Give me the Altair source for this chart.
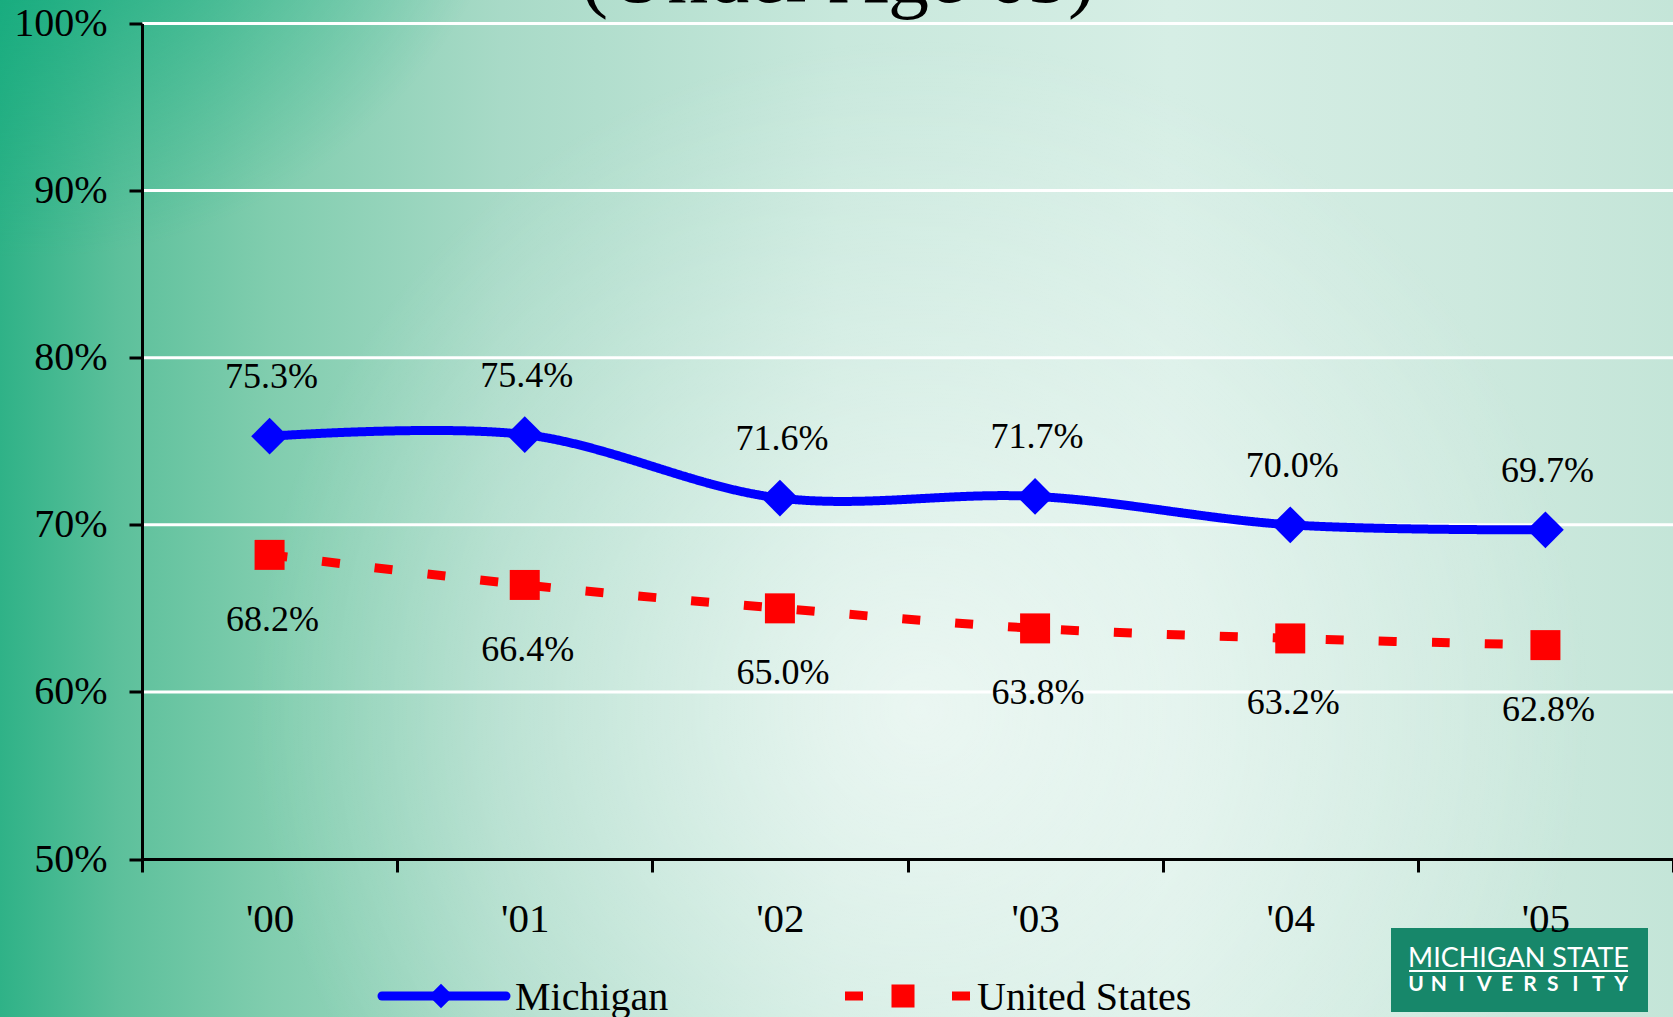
import altair as alt
import pandas as pd

# ---------------- data ----------------
years = ["'00", "'01", "'02", "'03", "'04", "'05"]
michigan = [75.3, 75.4, 71.6, 71.7, 70.0, 69.7]
united_states = [68.2, 66.4, 65.0, 63.8, 63.2, 62.8]
series_names = ["Michigan", "United States"]
series_colors = ["#0000ff", "#ff0000"]
y_ticks = [50, 60, 70, 80, 90, 100]
grid_values = [60, 70, 80, 90, 100]
title_text = "(Under Age 65)"
logo_line1 = "MICHIGAN STATE"
logo_line2 = list("UNIVERSITY")

# ---------------- layout ----------------
PAD_L, PAD_T = 142, 23.5
W = 1673 - PAD_L
H = 835.5
PAD_B = 1017 - PAD_T - H
SERIF = "Liberation Serif"

df = pd.DataFrame({
    "year": years * 2,
    "series": [series_names[0]] * len(years) + [series_names[1]] * len(years),
    "value": michigan + united_states,
})
df["label"] = df["value"].map(lambda v: f"{v:.1f}%")
one = pd.DataFrame({"k": [0]})

X = alt.X(
    "year:N", sort=years, bandPosition=0.5,
    scale=alt.Scale(type="band", domain=years, paddingInner=0, paddingOuter=0),
    axis=alt.Axis(title=None, labelAngle=0, tickBand="extent", grid=False,
                  domainColor="black", domainWidth=3, tickColor="black",
                  tickWidth=3, tickSize=13, labelFont=SERIF, labelFontSize=41,
                  labelColor="black", labelPadding=27, zindex=1),
)
YSCALE = alt.Scale(domain=[50, 100], nice=False, zero=False)
YAXIS = alt.Axis(title=None, values=y_ticks, labelExpr="datum.value + '%'",
                 grid=False, domainColor="black", domainWidth=3,
                 tickColor="black", tickWidth=3, tickSize=13, labelFont=SERIF,
                 labelFontSize=40, labelColor="black", labelPadding=22, zindex=1)
Y = alt.Y("value:Q", scale=YSCALE, axis=YAXIS)


def bg_rect(fill):
    return alt.Chart(one).mark_rect(fill=fill, strokeWidth=0).encode(
        x=alt.value(-PAD_L), x2=alt.value(W),
        y=alt.value(-PAD_T), y2=alt.value(H + PAD_B))


bg_base = bg_rect({
    "gradient": "linear", "x1": 0, "y1": 0, "x2": 1, "y2": 0,
    "stops": [
        {"offset": 0.0, "color": "#2fb287"},
        {"offset": 0.07, "color": "#5cc09b"},
        {"offset": 0.16, "color": "#80cdae"},
        {"offset": 0.3, "color": "#a8dac7"},
        {"offset": 0.5, "color": "#c8e8dc"},
        {"offset": 0.7, "color": "#d6eee5"},
        {"offset": 0.88, "color": "#cde9de"},
        {"offset": 1.0, "color": "#c4e5d8"},
    ]})
bg_glow = bg_rect({
    "gradient": "radial", "x1": 0.55, "y1": 0.62, "r1": 0,
    "x2": 0.55, "y2": 0.62, "r2": 0.4,
    "stops": [
        {"offset": 0.0, "color": "rgba(255,255,255,0.6)"},
        {"offset": 1.0, "color": "rgba(255,255,255,0)"},
    ]})
bg_corner = bg_rect({
    "gradient": "radial", "x1": 0.02, "y1": 0.05, "r1": 0,
    "x2": 0.02, "y2": 0.05, "r2": 0.3,
    "stops": [
        {"offset": 0.0, "color": "rgba(0,166,118,0.95)"},
        {"offset": 1.0, "color": "rgba(0,166,118,0)"},
    ]})

grid = alt.Chart(pd.DataFrame({"value": grid_values})).mark_rule(
    color="white", strokeWidth=3).encode(y=Y)

lines = alt.Chart(df).mark_line(interpolate="catmull-rom", strokeWidth=9).encode(
    x=X, y=Y,
    color=alt.Color("series:N", scale=alt.Scale(domain=series_names, range=series_colors), legend=None),
    strokeDash=alt.StrokeDash("series:N", scale=alt.Scale(domain=series_names, range=[[1, 0], [18, 35]]), legend=None),
)

pts_mi = alt.Chart(df).transform_filter(alt.datum.series == series_names[0]).mark_point(
    shape="diamond", filled=True, opacity=1, size=1350, color=series_colors[0]).encode(x=X, y=Y)
pts_us = alt.Chart(df).transform_filter(alt.datum.series == series_names[1]).mark_point(
    shape="square", filled=True, opacity=1, size=900, color=series_colors[1]).encode(x=X, y=Y)

lab_mi = alt.Chart(df).transform_filter(alt.datum.series == series_names[0]).mark_text(
    font=SERIF, fontSize=36, color="black", baseline="middle", dy=-59, dx=2).encode(x=X, y=Y, text="label:N")
lab_us = alt.Chart(df).transform_filter(alt.datum.series == series_names[1]).mark_text(
    font=SERIF, fontSize=36, color="black", baseline="middle", dy=65, dx=3).encode(x=X, y=Y, text="label:N")

title = alt.Chart(one).mark_text(
    text=title_text, font=SERIF, fontSize=82, color="black",
    align="center", baseline="alphabetic").encode(
    x=alt.value(838 - PAD_L), y=alt.value(2 - PAD_T))

# ---------------- legend (drawn) ----------------
LY = 996 - PAD_T
leg = [
    alt.Chart(one).mark_rule(color=series_colors[0], strokeWidth=9, strokeCap="round").encode(
        x=alt.value(382 - PAD_L), x2=alt.value(506 - PAD_L), y=alt.value(LY)),
    alt.Chart(one).mark_point(shape="diamond", filled=True, opacity=1, size=600, color=series_colors[0]).encode(
        x=alt.value(441 - PAD_L), y=alt.value(LY)),
    alt.Chart(one).mark_text(text=series_names[0], font=SERIF, fontSize=40, color="black",
                             align="left", baseline="alphabetic").encode(
        x=alt.value(515 - PAD_L), y=alt.value(1010 - PAD_T)),
    alt.Chart(one).mark_rule(color=series_colors[1], strokeWidth=9, strokeDash=[18, 89]).encode(
        x=alt.value(845 - PAD_L), x2=alt.value(970 - PAD_L), y=alt.value(LY)),
    alt.Chart(one).mark_point(shape="square", filled=True, opacity=1, size=530, color=series_colors[1]).encode(
        x=alt.value(903 - PAD_L), y=alt.value(LY)),
    alt.Chart(one).mark_text(text=series_names[1], font=SERIF, fontSize=40, color="black",
                             align="left", baseline="alphabetic").encode(
        x=alt.value(977 - PAD_L), y=alt.value(1010 - PAD_T)),
]

# ---------------- logo ----------------
logo = [
    alt.Chart(one).mark_rect(color="#17876a").encode(
        x=alt.value(1391 - PAD_L), x2=alt.value(1648 - PAD_L),
        y=alt.value(928 - PAD_T), y2=alt.value(1012 - PAD_T)),
    alt.Chart(one).mark_text(text=logo_line1, font="Lato", fontSize=27, color="white",
                             align="center", baseline="alphabetic").encode(
        x=alt.value(1518.5 - PAD_L), y=alt.value(967 - PAD_T)),
    alt.Chart(one).mark_rule(color="white", strokeWidth=2).encode(
        x=alt.value(1409 - PAD_L), x2=alt.value(1628 - PAD_L), y=alt.value(971 - PAD_T)),
]
step = (1621 - 1416) / (len(logo_line2) - 1)
for i, ch in enumerate(logo_line2):
    logo.append(alt.Chart(one).mark_text(
        text=ch, font="Lato", fontSize=21, fontWeight="bold", color="white",
        align="center", baseline="alphabetic").encode(
        x=alt.value(1416 + i * step - PAD_L), y=alt.value(991 - PAD_T)))

chart = alt.layer(
    bg_base, bg_glow, bg_corner, grid, lines, pts_mi, pts_us, lab_mi, lab_us, title,
    *leg, *logo,
).properties(
    width=W, height=H,
    autosize=alt.AutoSizeParams(type="none"),
    padding={"left": PAD_L, "top": PAD_T, "right": 0, "bottom": PAD_B},
    background="#c6e6d9",
).configure_view(stroke=None)

chart.save("out.html", embed_options={"renderer": "svg", "actions": False})
